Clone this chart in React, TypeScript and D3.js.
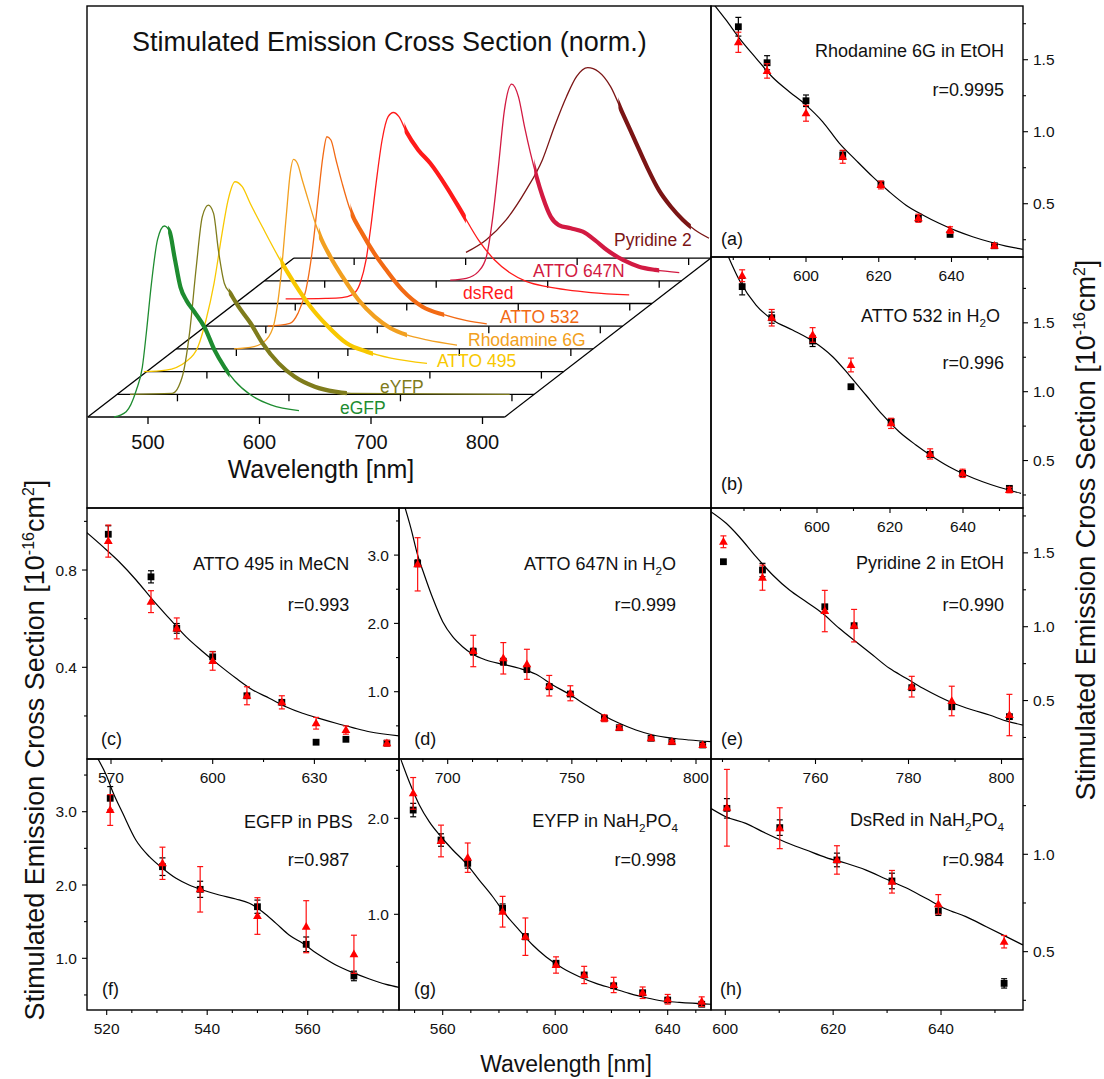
import React, { useEffect } from "react";
import * as d3 from "d3";

const FONT = "'Liberation Sans', Arial, Helvetica, sans-serif";

// ================= 3D normalized spectra (wavelength nm, normalized intensity) =================
const egfpWl = [469.6, 480.4, 489.5, 494.9, 498.5, 503.1, 508.6, 514.7, 519.4, 523.7, 529.1, 534.5, 541.7, 550.7, 559.7, 568.7, 577.7, 592.2, 610.2, 635.4];
const egfpInt = [0, 0.028, 0.14, 0.26, 0.44, 0.7, 0.93, 1.0, 0.97, 0.84, 0.68, 0.61, 0.55, 0.47, 0.35, 0.26, 0.19, 0.115, 0.063, 0.033];

const eyfpWl = [457.4, 495.3, 504.3, 510.8, 516.9, 522.3, 527.7, 532.4, 536.7, 542.1, 547.5, 554.8, 565.6, 576.4, 590.8, 605.2, 623.2, 641.3, 655.7, 798];
const eyfpInt = [0, 0.005, 0.092, 0.319, 0.668, 0.93, 0.99, 0.947, 0.755, 0.58, 0.528, 0.459, 0.372, 0.267, 0.162, 0.092, 0.04, 0.014, 0.005, 0];

const atto495Wl = [443.4, 463.2, 481.2, 492.0, 499.2, 506.4, 513.6, 519.0, 525.2, 531.7, 538.9, 549.7, 564.1, 578.5, 592.9, 607.3, 625.4, 643.4, 665.0, 697.4];
const atto495Int = [0, 0.008, 0.052, 0.13, 0.27, 0.462, 0.724, 0.898, 0.994, 0.968, 0.88, 0.758, 0.601, 0.462, 0.34, 0.244, 0.148, 0.104, 0.07, 0.043];

const r6gWl = [497.9, 515.9, 526.7, 533.9, 539.3, 544.7, 548.3, 551.2, 554.8, 559.1, 564.5, 569.9, 575.3, 584.3, 595.2, 609.6, 624.0, 638.4, 652.8, 670.8, 697.9];
const r6gInt = [0, 0.012, 0.047, 0.134, 0.343, 0.692, 0.919, 0.992, 0.971, 0.884, 0.779, 0.675, 0.587, 0.483, 0.378, 0.256, 0.169, 0.108, 0.073, 0.047, 0.02];

const atto532Wl = [501.8, 521.6, 528.8, 536.0, 541.4, 546.8, 551.2, 554.8, 558.4, 563.0, 568.5, 575.7, 586.5, 597.3, 608.1, 622.5, 640.5, 660.4, 680.2, 698.2];
const atto532Int = [0, 0.015, 0.067, 0.19, 0.382, 0.661, 0.888, 0.992, 0.975, 0.87, 0.748, 0.608, 0.486, 0.381, 0.294, 0.189, 0.102, 0.059, 0.029, 0.012];

const dsredWl = [491.4, 527.4, 541.9, 550.9, 558.1, 563.5, 567.8, 572.5, 577.9, 583.3, 588.0, 593.0, 599.5, 610.3, 621.1, 635.6, 650.0, 664.4, 678.8, 693.2, 707.6, 725.7, 743.7, 765.3, 799.5];
const dsredInt = [0.024, 0.027, 0.031, 0.045, 0.105, 0.228, 0.402, 0.629, 0.856, 0.978, 1.0, 0.978, 0.9, 0.804, 0.734, 0.611, 0.472, 0.332, 0.228, 0.158, 0.114, 0.088, 0.071, 0.057, 0.045];

const atto647Wl = [612.6, 627.0, 637.8, 645.0, 650.4, 655.8, 661.2, 667.7, 673.8, 679.2, 684.6, 690.0, 695.5, 702.7, 709.9, 720.7, 731.5, 742.3, 753.1, 767.5, 781.9, 796.4, 818.0];
const atto647Int = [0.004, 0.013, 0.048, 0.126, 0.318, 0.598, 0.894, 1.03, 0.963, 0.807, 0.667, 0.545, 0.44, 0.336, 0.292, 0.275, 0.257, 0.213, 0.161, 0.109, 0.074, 0.057, 0.043];

const pyrWl = [600.3, 618.3, 636.3, 654.3, 668.8, 679.6, 690.4, 699.4, 709.5, 719.2, 730.0, 740.8, 751.7, 762.5, 773.3, 784.1, 794.9, 805.7, 818.3];
const pyrInt = [0.03, 0.095, 0.2, 0.357, 0.514, 0.688, 0.845, 0.95, 0.997, 0.976, 0.898, 0.758, 0.618, 0.479, 0.356, 0.269, 0.2, 0.147, 0.104];

const threeDTicks = [500, 600, 700, 800];

const dyes = [
  { name: "Pyridine 2", color: "#7b1515", level: 7, wl: pyrWl, val: pyrInt, thick: [737, 802], lx: 614, ly: 246 },
  { name: "ATTO 647N", color: "#d21a42", level: 6, wl: atto647Wl, val: atto647Int, thick: [688, 800], lx: 533, ly: 277 },
  { name: "dsRed", color: "#ff1a1a", level: 5, wl: dsredWl, val: dsredInt, thick: [598, 653], lx: 463, ly: 299 },
  { name: "ATTO 532", color: "#f26a14", level: 4, wl: atto532Wl, val: atto532Int, thick: [576, 660], lx: 500, ly: 323 },
  { name: "Rhodamine 6G", color: "#f2a020", level: 3, wl: r6gWl, val: r6gInt, thick: [574, 653], lx: 468, ly: 346 },
  { name: "ATTO 495", color: "#f8c800", level: 2, wl: atto495Wl, val: atto495Int, thick: [566, 649], lx: 437, ly: 367 },
  { name: "eYFP", color: "#7f7c1c", level: 1, wl: eyfpWl, val: eyfpInt, thick: [546, 652], lx: 380, ly: 393 },
  { name: "eGFP", color: "#1e8c30", level: 0, wl: egfpWl, val: egfpInt, thick: [518, 573], lx: 340, ly: 414 },
];

// ================= Cross-section panels =================
// (a) Rhodamine 6G in EtOH
const aWl = [581.4, 589.3, 600.0, 610.1, 620.6, 630.9, 639.6, 651.8];
const aSq = [1.729, 1.479, 1.215, 0.838, 0.635, 0.399, 0.287, 0.208];
const aSqErr = [0.065, 0.049, 0.04, 0.03, 0.02, 0.02, 0.01, 0.01];
const aTri = [1.621, 1.422, 1.128, 0.826, 0.63, 0.399, 0.317, 0.208];
const aTriErr = [0.07, 0.05, 0.055, 0.045, 0.027, 0.028, 0.023, 0.015];
const aFitWl = [574.4, 578.0, 581.7, 586.3, 590.8, 595.4, 600.0, 604.6, 609.2, 613.7, 618.3, 622.9, 627.5, 632.1, 636.6, 641.2, 645.8, 650.4, 655.0, 659.6];
const aFitVal = [1.892, 1.776, 1.649, 1.51, 1.378, 1.278, 1.185, 1.069, 0.919, 0.803, 0.688, 0.583, 0.49, 0.422, 0.364, 0.313, 0.271, 0.236, 0.206, 0.183];

// (b) ATTO 532 in H2O
const bWl = [579.5, 587.6, 598.8, 609.3, 620.3, 631.0, 639.9, 652.7];
const bSq = [1.763, 1.537, 1.368, 1.036, 0.782, 0.545, 0.407, 0.298];
const bSqErr = [0.06, 0.04, 0.04, 0, 0.02, 0.02, 0.02, 0.015];
const bTri = [1.842, 1.537, 1.412, 1.194, 0.77, 0.548, 0.407, 0.286];
const bTriErr = [0.043, 0.06, 0.053, 0.05, 0.037, 0.037, 0.03, 0.02];
const bFitWl = [575.5, 578.7, 583.3, 587.9, 593.3, 598.8, 604.3, 608.8, 613.4, 618.0, 622.5, 627.1, 631.7, 636.2, 640.8, 645.4, 649.9, 655.9];
const bFitVal = [1.993, 1.811, 1.629, 1.521, 1.448, 1.368, 1.254, 1.121, 0.976, 0.831, 0.709, 0.613, 0.528, 0.455, 0.395, 0.346, 0.306, 0.262];

// (c) ATTO 495 in MeCN
const cWl = [569.2, 581.8, 589.4, 600.0, 610.1, 620.4, 630.5, 639.3, 651.4];
const cSq = [0.947, 0.772, 0.56, 0.443, 0.283, 0.256, 0.092, 0.104, 0.088];
const cSqErr = [0.035, 0.025, 0.02, 0.022, 0, 0, 0, 0, 0];
const cTri = [0.919, 0.67, 0.56, 0.426, 0.283, 0.256, 0.17, 0.142, 0.088];
const cTriErr = [0.066, 0.045, 0.043, 0.038, 0.037, 0.027, 0.024, 0.017, 0.012];
const cFitWl = [562.6, 567.6, 572.4, 577.4, 582.3, 587.2, 592.1, 597.1, 601.9, 606.9, 611.8, 616.7, 621.6, 626.5, 631.4, 636.4, 641.3, 646.2, 655.0];
const cFitVal = [0.957, 0.896, 0.834, 0.759, 0.677, 0.601, 0.526, 0.464, 0.409, 0.355, 0.307, 0.273, 0.238, 0.211, 0.19, 0.17, 0.152, 0.135, 0.118];

// (d) ATTO 647N in H2O
const dWl = [687.9, 710.3, 722.4, 731.9, 740.9, 749.4, 763.1, 769.1, 781.9, 790.3, 802.7];
const dSq = [2.88, 1.586, 1.439, 1.332, 1.073, 0.966, 0.611, 0.473, 0.318, 0.268, 0.22];
const dSqErr = [0.05, 0.05, 0.05, 0.05, 0.04, 0.03, 0.02, 0.02, 0.01, 0.01, 0.01];
const dTri = [2.865, 1.596, 1.489, 1.401, 1.088, 0.977, 0.611, 0.473, 0.318, 0.268, 0.22];
const dTriErr = [0.39, 0.23, 0.23, 0.22, 0.15, 0.11, 0.05, 0.03, 0.02, 0.02, 0.02];
const dFitWl = [682.5, 685.2, 687.9, 690.6, 694.0, 698.0, 702.0, 706.0, 710.1, 715.4, 722.2, 728.8, 735.6, 742.3, 749.0, 755.7, 762.4, 769.1, 775.8, 782.6, 790.6, 797.3, 806.0];
const dFitVal = [3.734, 3.392, 3.001, 2.709, 2.367, 2.025, 1.805, 1.659, 1.548, 1.464, 1.401, 1.343, 1.255, 1.098, 0.962, 0.805, 0.659, 0.537, 0.439, 0.366, 0.318, 0.293, 0.268];

// (e) Pyridine 2 in EtOH
const eWl = [740.2, 748.6, 762.0, 768.3, 780.7, 789.3, 801.7];
const eSq = [1.44, 1.384, 1.135, 1.007, 0.587, 0.458, 0.391];
const eSqErr = [0, 0.045, 0, 0, 0, 0, 0];
const eTri = [1.575, 1.332, 1.106, 1.007, 0.594, 0.497, 0.402];
const eTriErr = [0.04, 0.085, 0.14, 0.11, 0.07, 0.1, 0.14];
const eFitWl = [737.5, 740.8, 743.6, 747.2, 750.8, 754.4, 758.0, 761.5, 765.1, 768.7, 772.3, 775.9, 779.5, 783.1, 786.6, 790.2, 793.8, 797.4, 801.0, 804.6];
const eFitVal = [1.779, 1.7, 1.609, 1.474, 1.35, 1.248, 1.169, 1.091, 0.989, 0.898, 0.808, 0.718, 0.651, 0.583, 0.526, 0.475, 0.436, 0.402, 0.362, 0.334];

// (f) EGFP in PBS
const fWl = [520.7, 531.1, 538.6, 550.0, 559.7, 569.2];
const fSq = [3.183, 2.25, 1.941, 1.704, 1.191, 0.759];
const fSqErr = [0.16, 0.12, 0.11, 0.09, 0.1, 0.065];
const fTri = [3.023, 2.296, 1.941, 1.577, 1.431, 1.055];
const fTriErr = [0.21, 0.22, 0.31, 0.25, 0.355, 0.26];
const fFitWl = [518.2, 519.9, 521.2, 523.2, 525.8, 528.5, 531.1, 533.8, 536.4, 539.1, 542.4, 545.7, 548.4, 551.0, 553.7, 556.3, 559.0, 562.3, 565.6, 569.0, 572.3, 575.6, 578.2];
const fFitVal = [3.728, 3.501, 3.273, 2.978, 2.614, 2.386, 2.228, 2.091, 2.0, 1.932, 1.864, 1.809, 1.75, 1.636, 1.477, 1.318, 1.205, 1.045, 0.909, 0.804, 0.718, 0.645, 0.604];

// (g) EYFP in NaH2PO4
const gWl = [549.5, 559.4, 568.9, 581.3, 589.4, 600.3, 610.3, 620.8, 631.1, 640.0, 652.1];
const gSq = [2.086, 1.774, 1.531, 1.063, 0.767, 0.49, 0.368, 0.256, 0.183, 0.107, 0.063];
const gSqErr = [0.07, 0.065, 0.05, 0.045, 0.03, 0.02, 0.02, 0.02, 0.02, 0.02, 0.02];
const gTri = [2.26, 1.764, 1.59, 1.027, 0.767, 0.472, 0.368, 0.264, 0.183, 0.115, 0.09];
const gTriErr = [0.165, 0.165, 0.153, 0.16, 0.195, 0.085, 0.09, 0.08, 0.06, 0.05, 0.05];
const gFitWl = [545.2, 548.1, 551.7, 555.2, 559.4, 563.6, 568.3, 573.0, 577.8, 582.5, 587.2, 592.0, 596.7, 602.7, 608.6, 614.5, 620.4, 626.3, 632.3, 638.2, 644.1, 655.4];
const gFitVal = [2.607, 2.381, 2.139, 1.965, 1.808, 1.67, 1.531, 1.357, 1.183, 0.993, 0.836, 0.68, 0.558, 0.438, 0.35, 0.281, 0.229, 0.177, 0.131, 0.097, 0.083, 0.063];

// (h) DsRed in NaH2PO4
const hWl = [600.3, 610.1, 620.7, 630.9, 639.5, 651.7];
const hSq = [1.236, 1.137, 0.971, 0.863, 0.709, 0.337];
const hSqErr = [0.05, 0.04, 0.035, 0.04, 0.023, 0.024];
const hTri = [1.239, 1.134, 0.971, 0.859, 0.743, 0.551];
const hTriErr = [0.197, 0.105, 0.073, 0.058, 0.05, 0.032];
const hFitWl = [597.3, 600.1, 603.8, 607.5, 611.2, 615.0, 618.7, 622.4, 626.1, 629.8, 633.5, 637.2, 640.9, 644.6, 648.4, 652.1, 655.2];
const hFitVal = [1.236, 1.193, 1.159, 1.108, 1.062, 1.022, 0.983, 0.954, 0.919, 0.873, 0.828, 0.774, 0.719, 0.68, 0.628, 0.577, 0.534];

type Part = { t: string; sub?: boolean };

const panels = [
  {
    id: "a", x: 711, y: 6, w: 312, h: 251, xDom: [573.88, 659.66], yDom: [0.13, 1.873],
    xMajor: [600, 620, 640], xMinor: 10, yMajor: [0.5, 1.0, 1.5], yMinor: 0.25, ySide: "right",
    wl: aWl, sq: aSq, sqErr: aSqErr, tri: aTri, triErr: aTriErr, fitWl: aFitWl, fitVal: aFitVal,
    title: [{ t: "Rhodamine 6G in EtOH" }], tx: 1004, ty: 50, r: "r=0.9995", rx: 1004, ry: 89.3, letter: "(a)", lx: 721, ly: 238,
  },
  {
    id: "b", x: 711, y: 257, w: 312, h: 251, xDom: [570.96, 656.44], yDom: [0.1554, 1.978],
    xMajor: [600, 620, 640], xMinor: 10, yMajor: [0.5, 1.0, 1.5], yMinor: 0.25, ySide: "right",
    wl: bWl, sq: bSq, sqErr: bSqErr, tri: bTri, triErr: bTriErr, fitWl: bFitWl, fitVal: bFitVal,
    title: [{ t: "ATTO 532 in H" }, { t: "2", sub: true }, { t: "O" }], tx: 1000, ty: 315, r: "r=0.996", rx: 1004, ry: 362.3, letter: "(b)", lx: 721, ly: 483.3,
  },
  {
    id: "c", x: 87, y: 508, w: 312, h: 251, xDom: [562.92, 654.96], yDom: [0.023, 1.055],
    xMajor: [570, 600, 630], xMinor: 15, yMajor: [0.4, 0.8], yMinor: 0.2, ySide: "left",
    wl: cWl, sq: cSq, sqErr: cSqErr, tri: cTri, triErr: cTriErr, fitWl: cFitWl, fitVal: cFitVal,
    title: [{ t: "ATTO 495 in MeCN" }], tx: 349.3, ty: 563.3, r: "r=0.993", rx: 349.3, ry: 604.3, letter: "(c)", lx: 101, ly: 738.3,
  },
  {
    id: "d", x: 399, y: 508, w: 312, h: 251, xDom: [680.39, 806.04], yDom: [0.0146, 3.6896],
    xMajor: [700, 750, 800], xMinor: 10, yMajor: [1, 2, 3], yMinor: 0.5, ySide: "left",
    wl: dWl, sq: dSq, sqErr: dSqErr, tri: dTri, triErr: dTriErr, fitWl: dFitWl, fitVal: dFitVal,
    title: [{ t: "ATTO 647N in H" }, { t: "2", sub: true }, { t: "O" }], tx: 676, ty: 563.3, r: "r=0.999", rx: 676, ry: 604.3, letter: "(d)", lx: 414.3, ly: 738.3,
  },
  {
    id: "e", x: 711, y: 508, w: 312, h: 251, xDom: [737.53, 804.62], yDom: [0.1043, 1.8037],
    xMajor: [760, 780, 800], xMinor: 10, yMajor: [0.5, 1.0, 1.5], yMinor: 0.25, ySide: "right",
    wl: eWl, sq: eSq, sqErr: eSqErr, tri: eTri, triErr: eTriErr, fitWl: eFitWl, fitVal: eFitVal,
    title: [{ t: "Pyridine 2 in EtOH" }], tx: 1004, ty: 562.3, r: "r=0.990", rx: 1004, ry: 604.3, letter: "(e)", lx: 721, ly: 738.3,
  },
  {
    id: "f", x: 87, y: 759, w: 312, h: 251, xDom: [516.08, 578.17], yDom: [0.2947, 3.719],
    xMajor: [520, 540, 560], xMinor: 5, yMajor: [1, 2, 3], yMinor: 0.5, ySide: "left",
    wl: fWl, sq: fSq, sqErr: fSqErr, tri: fTri, triErr: fTriErr, fitWl: fFitWl, fitVal: fFitVal,
    title: [{ t: "EGFP in PBS" }], tx: 352.7, ty: 821.7, r: "r=0.987", rx: 349.3, ry: 859, letter: "(f)", lx: 102, ly: 988.3,
  },
  {
    id: "g", x: 399, y: 759, w: 312, h: 251, xDom: [544.46, 655.4], yDom: [0.0031, 2.618],
    xMajor: [560, 600, 640], xMinor: 10, yMajor: [1, 2], yMinor: 0.5, ySide: "left",
    wl: gWl, sq: gSq, sqErr: gSqErr, tri: gTri, triErr: gTriErr, fitWl: gFitWl, fitVal: gFitVal,
    title: [{ t: "EYFP in NaH" }, { t: "2", sub: true }, { t: "PO" }, { t: "4", sub: true }], tx: 678, ty: 820, r: "r=0.998", rx: 676, ry: 859, letter: "(g)", lx: 414, ly: 988.3,
  },
  {
    id: "h", x: 711, y: 759, w: 312, h: 251, xDom: [597.35, 655.2], yDom: [0.2003, 1.4895],
    xMajor: [600, 620, 640], xMinor: 10, yMajor: [0.5, 1.0], yMinor: 0.25, ySide: "right",
    wl: hWl, sq: hSq, sqErr: hSqErr, tri: hTri, triErr: hTriErr, fitWl: hFitWl, fitVal: hFitVal,
    title: [{ t: "DsRed in NaH" }, { t: "2", sub: true }, { t: "PO" }, { t: "4", sub: true }], tx: 1004, ty: 819.3, r: "r=0.984", rx: 1004, ry: 859.3, letter: "(h)", lx: 720, ly: 988.3,
  },
];

function stepValues(d0: number, d1: number, step: number) {
  const out: number[] = [];
  const k0 = Math.ceil(d0 / step - 1e-9);
  const k1 = Math.floor(d1 / step + 1e-9);
  for (let k = k0; k <= k1; k++) out.push(+(k * step).toFixed(6));
  return out;
}

function TitleText({ x, y, parts, size }: { x: number; y: number; parts: Part[]; size: number }) {
  let inSub = false;
  return (
    <text x={x} y={y} textAnchor="end" fontSize={size} fontFamily={FONT} fill="#111">
      {parts.map((p, i) => {
        let dy = 0;
        if (p.sub && !inSub) dy = 5;
        if (!p.sub && inSub) dy = -5;
        inSub = !!p.sub;
        return (
          <tspan key={i} dy={dy} fontSize={p.sub ? size * 0.65 : size}>
            {p.t}
          </tspan>
        );
      })}
    </text>
  );
}

function Panel({ p }: { p: any }) {
  const x = d3.scaleLinear().domain(p.xDom).range([p.x, p.x + p.w]);
  const y = d3.scaleLinear().domain(p.yDom).range([p.y + p.h, p.y]);
  const fit = d3
    .line<[number, number]>()
    .x((d) => x(d[0]))
    .y((d) => y(d[1]))
    .curve(d3.curveMonotoneX)(d3.zip(p.fitWl, p.fitVal) as [number, number][]);
  const bottom = p.y + p.h;
  const xTicks = stepValues(p.xDom[0], p.xDom[1], p.xMinor);
  const yTicks = stepValues(p.yDom[0], p.yDom[1], p.yMinor);
  const isMajor = (arr: number[], v: number) => arr.some((m) => Math.abs(m - v) < 1e-6);
  const axX = p.ySide === "left" ? p.x : p.x + p.w;
  const dir = p.ySide === "left" ? -1 : 1;
  const fmt = d3.format(".1f");
  const cap = 3;
  const tri = (cx: number, cy: number) => `M${cx},${cy - 4.8} L${cx + 4.4},${cy + 3} L${cx - 4.4},${cy + 3} Z`;
  return (
    <g>
      <defs>
        <clipPath id={`clip-${p.id}`}>
          <rect x={p.x} y={p.y} width={p.w} height={p.h} />
        </clipPath>
      </defs>
      <rect x={p.x} y={p.y} width={p.w} height={p.h} fill="none" stroke="#000" strokeWidth={1.4} />
      {xTicks.map((v) => (
        <line key={`xt${v}`} x1={x(v)} x2={x(v)} y1={bottom} y2={bottom + (isMajor(p.xMajor, v) ? 5 : 3)} stroke="#000" strokeWidth={1.1} />
      ))}
      {p.xMajor.map((v: number) => (
        <text key={`xl${v}`} x={x(v)} y={bottom + 23.5} textAnchor="middle" fontSize={15.5} fontFamily={FONT} fill="#111">
          {v}
        </text>
      ))}
      {yTicks.map((v) => (
        <line key={`yt${v}`} x1={axX} x2={axX + dir * (isMajor(p.yMajor, v) ? 5 : 3)} y1={y(v)} y2={y(v)} stroke="#000" strokeWidth={1.1} />
      ))}
      {p.yMajor.map((v: number) => (
        <text key={`yl${v}`} x={axX + dir * 10} y={y(v)} dy="0.36em" textAnchor={p.ySide === "left" ? "end" : "start"} fontSize={15.5} fontFamily={FONT} fill="#111">
          {fmt(v)}
        </text>
      ))}
      <path d={fit || ""} fill="none" stroke="#000" strokeWidth={1.2} clipPath={`url(#clip-${p.id})`} />
      {p.wl.map((w: number, i: number) => {
        const cx = x(w), cy = y(p.sq[i]), e = p.sqErr[i];
        return (
          <g key={`s${i}`}>
            {e > 0 && (
              <g stroke="#000" strokeWidth={1.2}>
                <line x1={cx} x2={cx} y1={y(p.sq[i] - e)} y2={y(p.sq[i] + e)} />
                <line x1={cx - cap} x2={cx + cap} y1={y(p.sq[i] - e)} y2={y(p.sq[i] - e)} />
                <line x1={cx - cap} x2={cx + cap} y1={y(p.sq[i] + e)} y2={y(p.sq[i] + e)} />
              </g>
            )}
            <rect x={cx - 3.4} y={cy - 3.4} width={6.8} height={6.8} fill="#000" />
          </g>
        );
      })}
      {p.wl.map((w: number, i: number) => {
        const cx = x(w), cy = y(p.tri[i]), e = p.triErr[i];
        return (
          <g key={`t${i}`}>
            {e > 0 && (
              <g stroke="#ff1010" strokeWidth={1.2}>
                <line x1={cx} x2={cx} y1={y(p.tri[i] - e)} y2={y(p.tri[i] + e)} />
                <line x1={cx - cap} x2={cx + cap} y1={y(p.tri[i] - e)} y2={y(p.tri[i] - e)} />
                <line x1={cx - cap} x2={cx + cap} y1={y(p.tri[i] + e)} y2={y(p.tri[i] + e)} />
              </g>
            )}
            <path d={tri(cx, cy)} fill="#ff0000" />
          </g>
        );
      })}
      <TitleText x={p.tx} y={p.ty + 6.5} parts={p.title} size={18} />
      <text x={p.rx} y={p.ry + 6.5} textAnchor="end" fontSize={18} fontFamily={FONT} fill="#111">
        {p.r}
      </text>
      <text x={p.lx} y={p.ly + 6.5} fontSize={18} fontFamily={FONT} fill="#111">
        {p.letter}
      </text>
    </g>
  );
}

// ================= 3D waterfall panel =================
const X3 = d3.scaleLinear().domain([500, 800]).range([148, 482.5]);
const DX = 29.45, DY = 22.7, BASE = 417, AMP = 191;
const FLOOR = [446, 820];

function Waterfall() {
  const px = (wl: number, L: number) => X3(wl) + L * DX;
  const py = (v: number, L: number) => BASE - L * DY - v * AMP;
  const levels = d3.range(8);
  return (
    <g>
      <defs>
        <clipPath id="clip3d">
          <rect x={87} y={6} width={624} height={502} />
        </clipPath>
      </defs>
      <rect x={87} y={6} width={624} height={502} fill="none" stroke="#000" strokeWidth={1.4} />
      <text x={132} y={51} fontSize={27} fontFamily={FONT} fill="#111">
        Stimulated Emission Cross Section (norm.)
      </text>
      <g stroke="#000" strokeWidth={1.3}>
        {levels.map((L) => (
          <line key={`lv${L}`} x1={px(FLOOR[0], L)} x2={px(FLOOR[1], L)} y1={BASE - L * DY} y2={BASE - L * DY} />
        ))}
        <line x1={px(FLOOR[0], 0)} y1={BASE} x2={px(FLOOR[0], 7)} y2={BASE - 7 * DY} />
        <line x1={px(FLOOR[1], 0)} y1={BASE} x2={px(FLOOR[1], 7)} y2={BASE - 7 * DY} />
        {levels.map((L) =>
          threeDTicks.map((t) => (
            <line key={`tk${L}-${t}`} x1={px(t, L)} x2={px(t, L)} y1={BASE - L * DY} y2={BASE - L * DY + 7} />
          ))
        )}
      </g>
      {threeDTicks.map((t) => (
        <text key={`t3${t}`} x={px(t, 0)} y={449} textAnchor="middle" fontSize={20} fontFamily={FONT} fill="#111">
          {t}
        </text>
      ))}
      <text x={321} y={478} textAnchor="middle" fontSize={25} fontFamily={FONT} fill="#111">
        Wavelength [nm]
      </text>
      <g clipPath="url(#clip3d)">
        {dyes.map((dye) => {
          const pts = d3.zip(dye.wl, dye.val) as [number, number][];
          const line = d3
            .line<[number, number]>()
            .x((d) => px(d[0], dye.level))
            .y((d) => py(d[1], dye.level))
            .curve(d3.curveMonotoneX)(pts) || "";
          const x1 = px(dye.thick[0], dye.level), x2 = px(dye.thick[1], dye.level);
          return (
            <g key={dye.name}>
              <defs>
                <clipPath id={`thick-${dye.level}`}>
                  <rect x={x1} y={0} width={x2 - x1} height={520} />
                </clipPath>
              </defs>
              <path d={line} fill="none" stroke={dye.color} strokeWidth={1.3} />
              <path d={line} fill="none" stroke={dye.color} strokeWidth={4.2} clipPath={`url(#thick-${dye.level})`} />
            </g>
          );
        })}
      </g>
      {dyes.map((dye) => (
        <text key={`lb${dye.name}`} x={dye.lx} y={dye.ly} fontSize={17.5} fontFamily={FONT} fill={dye.color}>
          {dye.name}
        </text>
      ))}
    </g>
  );
}

function AxisTitle({ cx, cy }: { cx: number; cy: number }) {
  return (
    <text transform={`translate(${cx},${cy}) rotate(-90)`} textAnchor="middle" fontSize={27} fontFamily={FONT} fill="#111">
      Stimulated Emission Cross Section [10
      <tspan dy={-10} fontSize={16}>-16</tspan>
      <tspan dy={10}>cm</tspan>
      <tspan dy={-10} fontSize={16}>2</tspan>
      <tspan dy={10}>]</tspan>
    </text>
  );
}

export default function App() {
  useEffect(() => {
    document.body.style.margin = "0";
  }, []);
  return (
    <svg width={1104} height={1079} viewBox="0 0 1104 1079" style={{ position: "absolute", left: 0, top: 0, background: "#fff" }}>
      <rect x={0} y={0} width={1104} height={1079} fill="#fff" />
      <Waterfall />
      {panels.map((p) => (
        <Panel key={p.id} p={p} />
      ))}
      <AxisTitle cx={44} cy={750} />
      <AxisTitle cx={1095} cy={530} />
      <text x={566} y={1072} textAnchor="middle" fontSize={23} fontFamily={FONT} fill="#111">
        Wavelength [nm]
      </text>
    </svg>
  );
}
